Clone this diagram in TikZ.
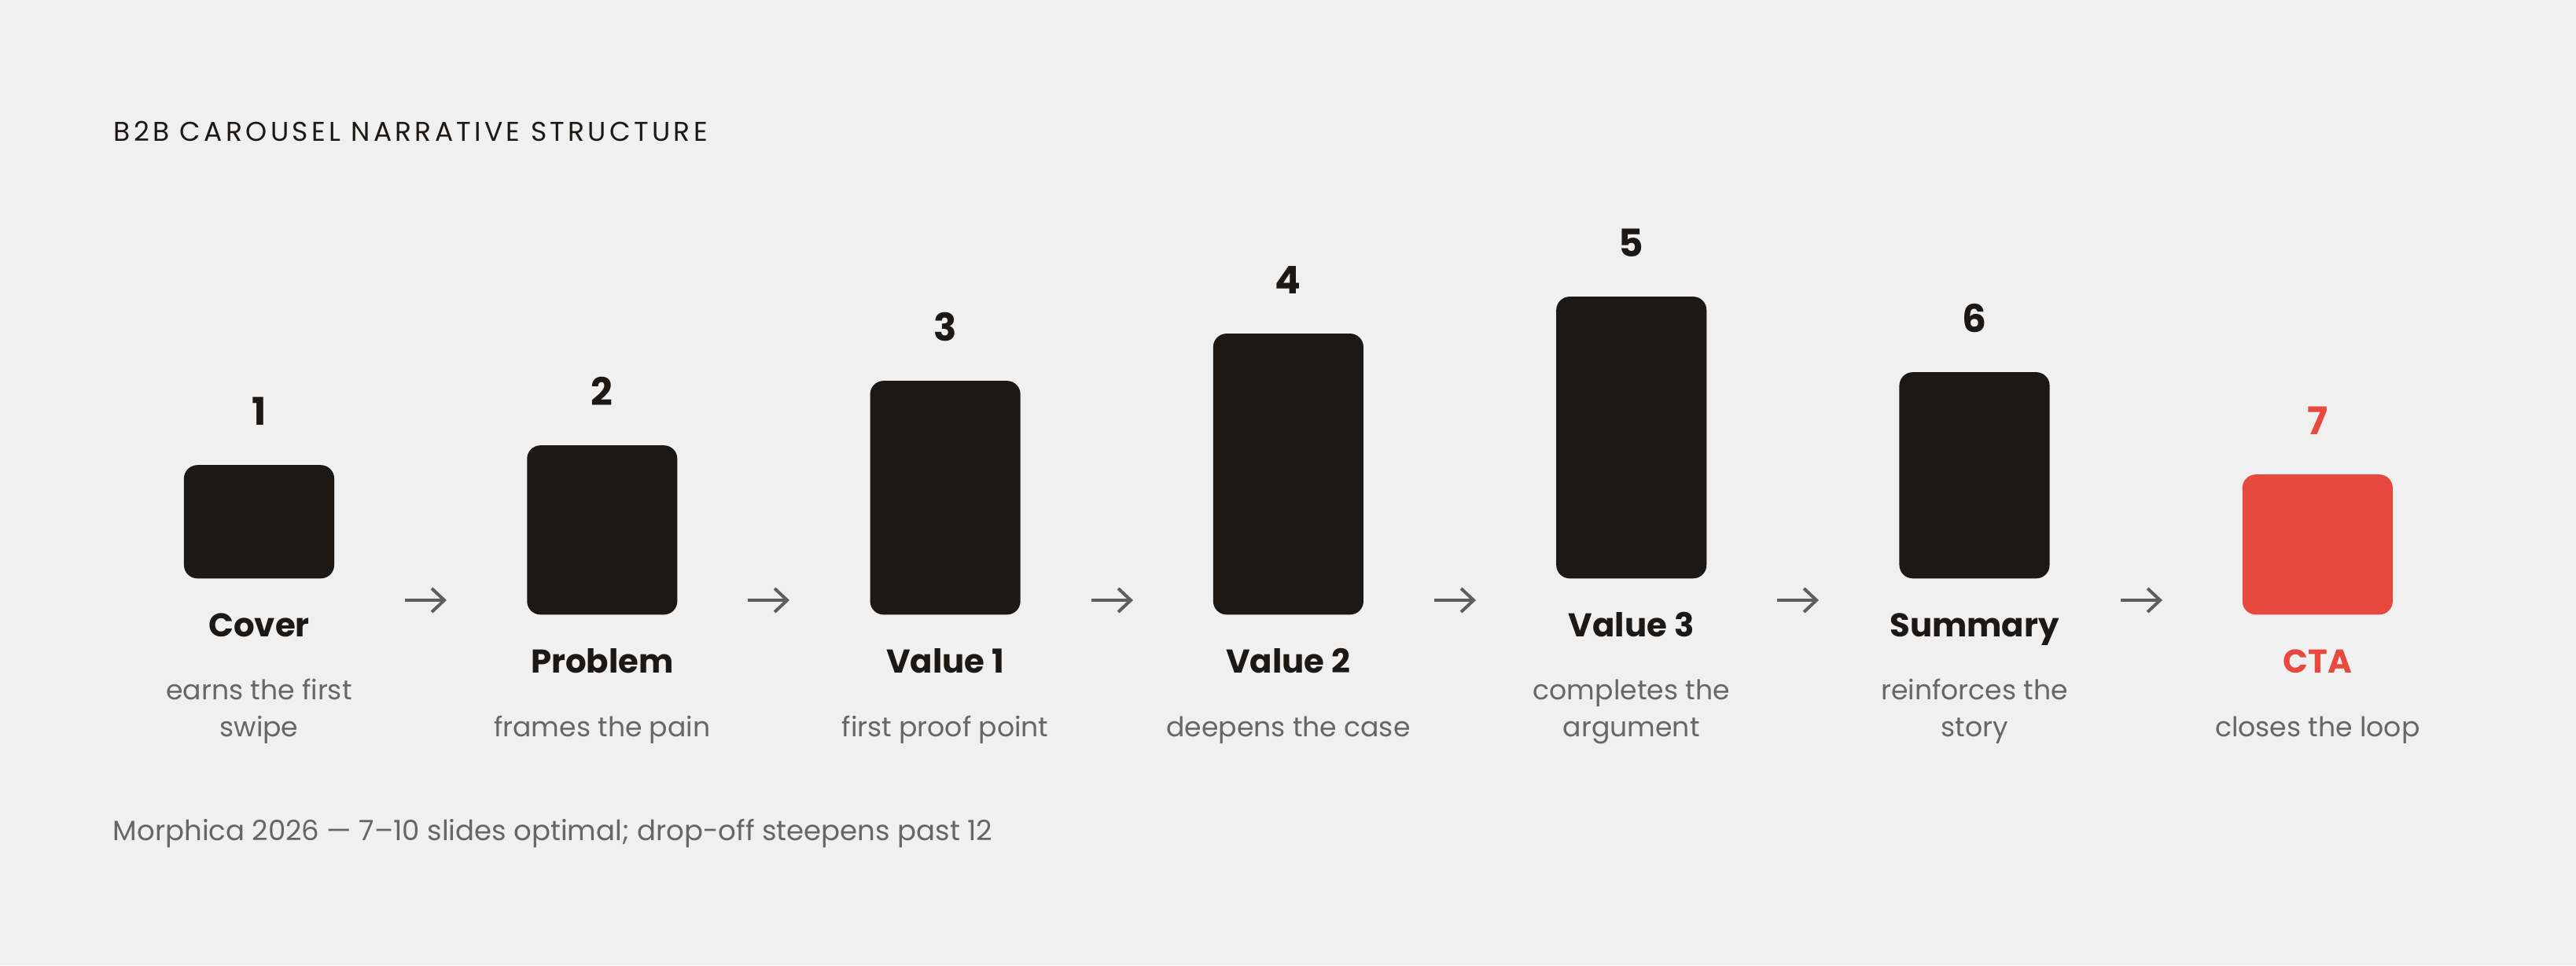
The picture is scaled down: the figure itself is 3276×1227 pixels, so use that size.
\documentclass[tikz,border=0pt]{standalone}
\usepackage{fontspec}
\setmainfont{Poppins}
\newfontfamily\capsfont[LetterSpace=12.5]{Poppins}
\usetikzlibrary{arrows.meta}
\definecolor{paper}{HTML}{F0F0F0}
\definecolor{ink}{HTML}{1C1815}
\definecolor{accent}{HTML}{E8493F}
\definecolor{muted}{HTML}{666666}
\definecolor{arrowgray}{HTML}{5E5E5E}

\begin{document}
\begin{tikzpicture}[x=0.01cm, y=-0.01cm,
    slide/.style={fill=ink, rounded corners=0.17cm, minimum width=1.91cm, anchor=south, inner sep=0},
    num/.style={anchor=base, text=ink, font=\fontsize{13.8}{16}\selectfont\bfseries},
    lbl/.style={anchor=base, text=ink, font=\fontsize{11.9}{14}\selectfont\bfseries},
    desc/.style={anchor=base, text=muted, align=center, font=\fontsize{9.85}{13.4}\selectfont},
    flow/.style={arrowgray, line width=0.04cm, -{Straight Barb[length=0.16cm, width=0.3cm]}}]
      \fill[paper] (0,0) rectangle (3276,1227);
      \useasboundingbox (0,0) rectangle (3276,1227);
      \node[anchor=base west, inner sep=0, text=ink, font=\fontsize{9.8}{12}\capsfont] (title) at (144,179) {B2B CAROUSEL NARRATIVE STRUCTURE};
      % slides, bottom aligned per column
      \node[slide, minimum height=1.44cm] (s1) at (329.5,736) {};
      \node[slide, minimum height=2.15cm] (s2) at (765.8,782) {};
      \node[slide, minimum height=2.97cm] (s3) at (1202.1,782) {};
      \node[slide, minimum height=3.57cm] (s4) at (1638.4,782) {};
      \node[slide, minimum height=3.58cm] (s5) at (2074.7,736) {};
      \node[slide, minimum height=2.62cm] (s6) at (2511,736) {};
      \node[slide, minimum height=1.78cm, fill=accent] (s7) at (2947.3,782) {};
      % numbers
      \node[num] (n1) at ([yshift=0.5cm]s1.north) {1};
      \node[num] (n2) at ([yshift=0.5cm]s2.north) {2};
      \node[num] (n3) at ([yshift=0.5cm]s3.north) {3};
      \node[num] (n4) at ([yshift=0.5cm]s4.north) {4};
      \node[num] (n5) at ([yshift=0.5cm]s5.north) {5};
      \node[num] (n6) at ([yshift=0.5cm]s6.north) {6};
      \node[num, text=accent] (n7) at ([yshift=0.5cm]s7.north) {7};
      % labels
      \node[lbl] (l1) at ([yshift=-0.73cm]s1.south) {Cover};
      \node[lbl] (l2) at ([yshift=-0.73cm]s2.south) {Problem};
      \node[lbl] (l3) at ([yshift=-0.73cm]s3.south) {Value 1};
      \node[lbl] (l4) at ([yshift=-0.73cm]s4.south) {Value 2};
      \node[lbl] (l5) at ([yshift=-0.73cm]s5.south) {Value 3};
      \node[lbl] (l6) at ([yshift=-0.73cm]s6.south) {Summary};
      \node[lbl, text=accent] (l7) at ([yshift=-0.73cm]s7.south) {CTA};
      % descriptions (base = last line)
      \node[desc] (d1) at ([yshift=-2cm]s1.south) {earns the first\\swipe};
      \node[desc] (d2) at ([yshift=-1.54cm]s2.south) {frames the pain};
      \node[desc] (d3) at ([yshift=-1.54cm]s3.south) {first proof point};
      \node[desc] (d4) at ([yshift=-1.54cm]s4.south) {deepens the case};
      \node[desc] (d5) at ([yshift=-2cm]s5.south) {completes the\\argument};
      \node[desc] (d6) at ([yshift=-2cm]s6.south) {reinforces the\\story};
      \node[desc] (d7) at ([yshift=-1.54cm]s7.south) {closes the loop};
      % arrows between slides
      \coordinate (a1) at (515,763);  \coordinate (b1) at (568,763);
      \coordinate (a2) at (951,763);  \coordinate (b2) at (1004,763);
      \coordinate (a3) at (1388,763); \coordinate (b3) at (1441,763);
      \coordinate (a4) at (1824,763); \coordinate (b4) at (1877,763);
      \coordinate (a5) at (2260,763); \coordinate (b5) at (2313,763);
      \coordinate (a6) at (2697,763); \coordinate (b6) at (2750,763);
      \draw[flow] (a1) -- (b1);
      \draw[flow] (a2) -- (b2);
      \draw[flow] (a3) -- (b3);
      \draw[flow] (a4) -- (b4);
      \draw[flow] (a5) -- (b5);
      \draw[flow] (a6) -- (b6);
      \node[anchor=base west, inner sep=0, text=muted, font=\fontsize{10.1}{12}\selectfont] (note) at (143,1068) {Morphica 2026 — 7–10 slides optimal; drop-off steepens past 12};
\end{tikzpicture}
\end{document}
